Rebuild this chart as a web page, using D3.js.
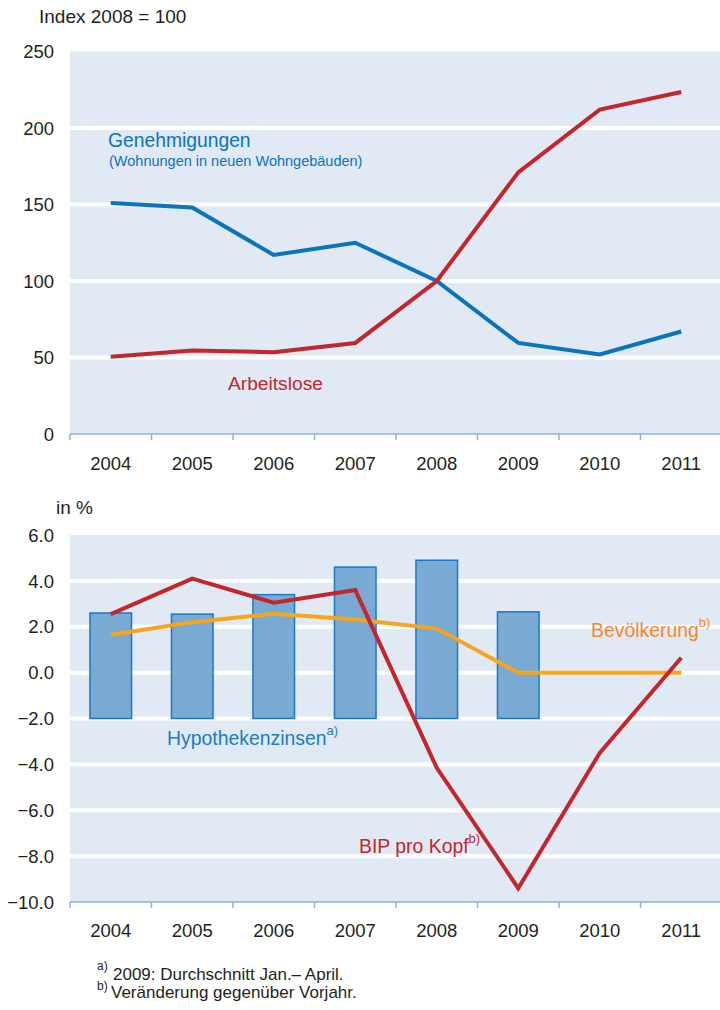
<!DOCTYPE html>
<html><head><meta charset="utf-8">
<script src="https://cdn.jsdelivr.net/npm/d3@7"></script>
<style>
html,body{margin:0;padding:0;background:#fff;}
svg{display:block;font-family:"Liberation Sans",Arial,sans-serif;}
</style></head>
<body>
<svg id="c" width="720" height="1010"></svg>
<script>
const years = ["2004","2005","2006","2007","2008","2009","2010","2011"];
// Top chart (Index 2008 = 100)
const genehmigungen = [151, 148, 117, 125, 100, 59.5, 52, 67];
const arbeitslose = [50.5, 54.5, 53.5, 59.5, 100, 171, 212, 223.5];
const topTicks = [0, 50, 100, 150, 200, 250];
// Bottom chart (in %)
const hypothekenzinsen = [2.6, 2.55, 3.4, 4.6, 4.9, 2.65];
const bipProKopf = [2.55, 4.1, 3.05, 3.6, -4.15, -9.4, -3.5, 0.65];
const bevoelkerung = [1.65, 2.2, 2.57, 2.32, 1.92, 0, 0, 0];
const bottomTicks = [-10, -8, -6, -4, -2, 0, 2, 4, 6];
const barBase = -2;

const svg = d3.select("#c");
const BG = "#e1e9f4", AX = "#8cb2dd", TXT = "#231f20";
const RED = "#c1272d", BLUE = "#0a74bc", ORANGE = "#f6a520";
const FS = 18.5;

const x = d3.scaleBand().domain(years).range([70, 722]).paddingInner(0).paddingOuter(0);

function panel(y, ticks, fmt, pad) {
  const g = svg.append("g");
  g.append("rect").attr("x", 70).attr("y", y(ticks[ticks.length-1]))
    .attr("width", 650).attr("height", y(ticks[0]) - y(ticks[ticks.length-1]))
    .attr("fill", BG);
  g.selectAll("line.grid").data(ticks.slice(1, -1)).join("line")
    .attr("x1", 70).attr("x2", 720).attr("y1", d => y(d)).attr("y2", d => y(d))
    .attr("stroke", "#fff").attr("stroke-width", 4);
  g.selectAll("text.yl").data(ticks).join("text")
    .attr("x", 54).attr("y", d => y(d)).attr("dy", "0.36em")
    .attr("text-anchor", "end").attr("font-size", FS).attr("fill", TXT)
    .text(fmt);
  const ax = g.append("g").attr("transform", `translate(0,${y(ticks[0])})`)
    .call(d3.axisBottom(x).tickSize(0).tickPadding(pad));
  ax.select(".domain").attr("stroke", AX).attr("stroke-width", 1.5).attr("d", "M70,0H720");
  ax.selectAll("text").attr("font-size", FS).attr("fill", TXT)
    .attr("font-family", "Liberation Sans, Arial, sans-serif");
  const bounds = years.map(d => x(d));
  g.selectAll("line.tk").data(bounds).join("line")
    .attr("x1", d => d).attr("x2", d => d)
    .attr("y1", y(ticks[0])).attr("y2", y(ticks[0]) + 6)
    .attr("stroke", AX).attr("stroke-width", 1.5);
  return g;
}

const cx = d => x(d) + x.bandwidth() / 2;

// ---- Top ----
const yT = d3.scaleLinear().domain([0, 250]).range([434, 51.5]);
const gT = panel(yT, topTicks, d => d, 23);
svg.append("text").attr("x", 39).attr("y", 23).attr("font-size", 19).attr("fill", TXT).text("Index 2008 = 100");
const lineT = d3.line().x((d, i) => cx(years[i])).y(d => yT(d));
gT.append("path").datum(genehmigungen).attr("d", lineT).attr("fill", "none")
  .attr("stroke", BLUE).attr("stroke-width", 4);
gT.append("path").datum(arbeitslose).attr("d", lineT).attr("fill", "none")
  .attr("stroke", RED).attr("stroke-width", 4);
svg.append("text").attr("x", 108).attr("y", 147).attr("font-size", 19.3).attr("fill", BLUE).text("Genehmigungen");
svg.append("text").attr("x", 109).attr("y", 166).attr("font-size", 14.5).attr("fill", BLUE).text("(Wohnungen in neuen Wohngebäuden)");
svg.append("text").attr("x", 228).attr("y", 390).attr("font-size", 19.2).attr("fill", RED).text("Arbeitslose");

// ---- Bottom ----
const yB = d3.scaleLinear().domain([-10, 6]).range([902, 535]);
const gB = panel(yB, bottomTicks, d => d3.format(".1f")(d), 22);
svg.append("text").attr("x", 56).attr("y", 514).attr("font-size", 19).attr("fill", TXT).text("in %");
const bw = x.bandwidth() * 0.51;
gB.selectAll("rect.bar").data(hypothekenzinsen).join("rect")
  .attr("x", (d, i) => cx(years[i]) - bw / 2)
  .attr("y", d => yB(d)).attr("width", bw).attr("height", d => yB(barBase) - yB(d))
  .attr("fill", "#79aad4").attr("stroke", "#1a78c2").attr("stroke-width", 1.5);
const lineB = d3.line().x((d, i) => cx(years[i])).y(d => yB(d));
gB.append("path").datum(bevoelkerung).attr("d", lineB).attr("fill", "none")
  .attr("stroke", ORANGE).attr("stroke-width", 4);
gB.append("path").datum(bipProKopf).attr("d", lineB).attr("fill", "none")
  .attr("stroke", RED).attr("stroke-width", 4);

function supLabel(xp, yp, main, sup, color) {
  const t = svg.append("text").attr("x", xp).attr("y", yp).attr("font-size", 19.4).attr("fill", color);
  t.append("tspan").text(main);
  t.append("tspan").attr("dy", -10).attr("font-size", 13).text(sup);
}
supLabel(167, 745, "Hypothekenzinsen", "a)", "#1a7dc2");
supLabel(359, 853, "BIP pro Kopf", "b)", RED);
supLabel(591, 637, "Bevölkerung", "b)", "#f08a32");

// Footnotes
function foot(yp, supY, sup, txt, xt) {
  svg.append("text").attr("x", 97).attr("y", supY).attr("font-size", 12).attr("fill", TXT).text(sup);
  svg.append("text").attr("x", xt).attr("y", yp).attr("font-size", 17).attr("fill", TXT).text(txt);
}
foot(979.5, 970, "a)", "2009: Durchschnitt Jan.– April.", 113);
foot(997.5, 989.5, "b)", "Veränderung gegenüber Vorjahr.", 111);
</script>
</body></html>
